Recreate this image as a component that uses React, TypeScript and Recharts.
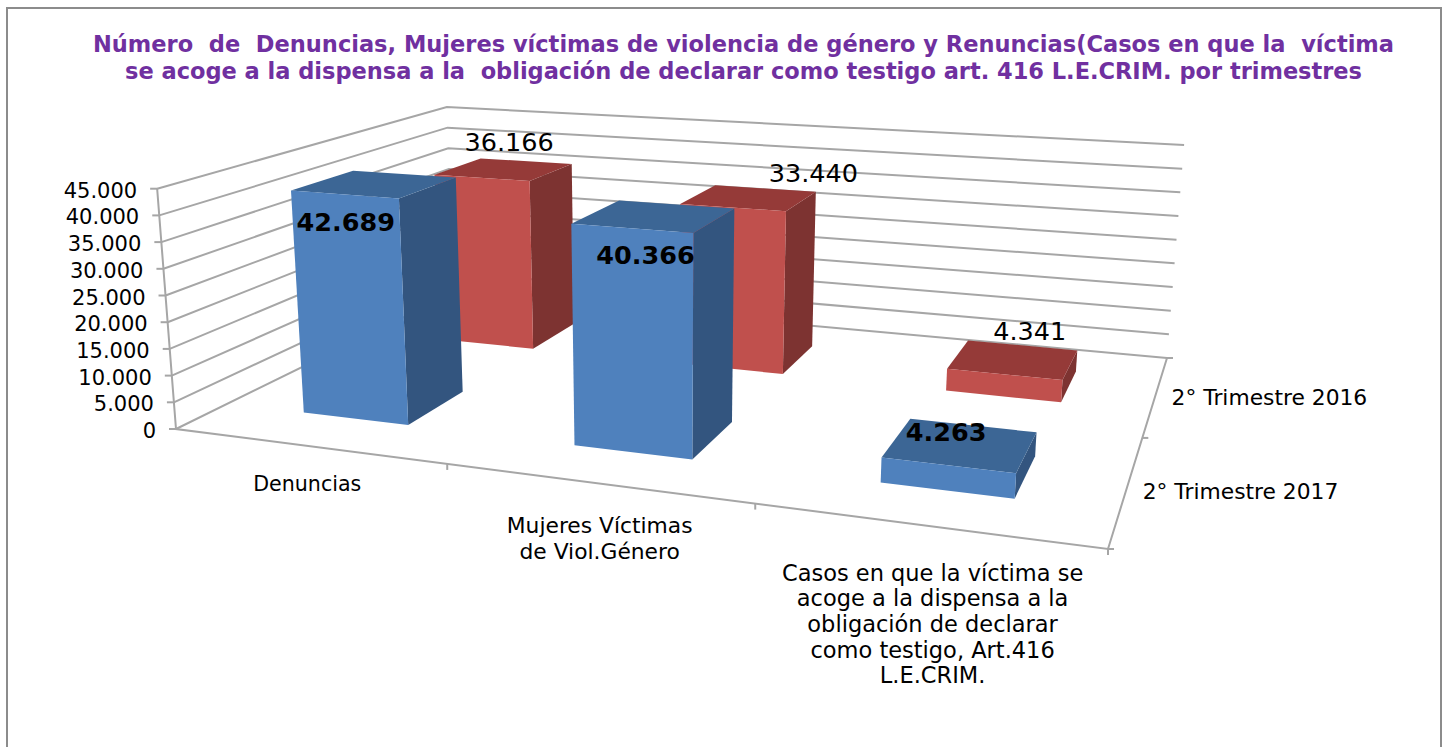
import { BarChart, Bar, XAxis, YAxis, CartesianGrid } from "recharts";

const W = 1446;
const H = 747;
// the axes keep 1px each, a zero size axis is not drawn at all
const PW = W - 1;
const PH = H - 1;

const categories = [
  "Denuncias",
  "Mujeres Víctimas\nde Viol.Género",
  "Casos en que la víctima se\nacoge a la dispensa a la\nobligación de declarar\ncomo testigo, Art.416\nL.E.CRIM.",
];
const values2017 = [42689, 40366, 4263];
const values2016 = [36166, 33440, 4341];
const seriesNames = ["2° Trimestre 2017", "2° Trimestre 2016"];
const yTicks = [0, 5000, 10000, 15000, 20000, 25000, 30000, 35000, 40000, 45000];
const titleLines = [
  "Número  de  Denuncias, Mujeres víctimas de violencia de género y Renuncias(Casos en que la  víctima",
  "se acoge a la dispensa a la  obligación de declarar como testigo art. 416 L.E.CRIM. por trimestres",
];

const data = categories.map((name, i) => ({
  name,
  t2017: values2017[i],
  t2016: values2016[i],
}));

const FONT = "'DejaVu Sans', Verdana, sans-serif";
const GRID = "#a6a6a6";
const X_LABEL_SIZE = [20.6, 21.8, 22.5];

// floor of the 3D box: front-left, front-right, back-right, back-left
const floorQuad = [[176, 429], [1108, 549], [1167, 358], [453, 293]];
// vertical edges all run to this point, far below the chart
const VANISH = [663, 6638];
const HEIGHT_K = 0.0387;

function makeFloor(q: number[][]) {
  const [[x0, y0], [x1, y1], [x2, y2], [x3, y3]] = q;
  const dx1 = x1 - x2, dx2 = x3 - x2, sx = x0 - x1 + x2 - x3;
  const dy1 = y1 - y2, dy2 = y3 - y2, sy = y0 - y1 + y2 - y3;
  const det = dx1 * dy2 - dx2 * dy1;
  const g = (sx * dy2 - dx2 * sy) / det;
  const h = (dx1 * sy - sx * dy1) / det;
  return (a: number, b: number) => {
    const w = g * a + h * b + 1;
    return [
      ((x1 - x0 + g * x1) * a + (x3 - x0 + h * x3) * b + x0) / w,
      ((y1 - y0 + g * y1) * a + (y3 - y0 + h * y3) * b + y0) / w,
      w,
    ];
  };
}
const floorAt = makeFloor(floorQuad);

// a: along categories, b: depth, c: height, all 0..1
function project(a: number, b: number, c: number) {
  const [x, y, w] = floorAt(a, b);
  const k = (HEIGHT_K * c) / w;
  return [x + (x - VANISH[0]) * k, y + (y - VANISH[1]) * k];
}

const pts = (list: number[][]) => list.map((p) => p.join(",")).join(" ");
const fmt = (v: number) => String(v).replace(/\B(?=(\d{3})+$)/g, ".");

function GridLevel(props: any) {
  const c = 1 - props.y1 / PH;
  return (
    <polyline
      points={pts([project(0, 0, c), project(0, 1, c), project(1, 1, c)])}
      fill="none"
      stroke={GRID}
      strokeWidth={2}
    />
  );
}

function Frame() {
  const depthTicks = [0, 0.5, 1].map((b) => {
    const p = project(1, b, 0);
    return <line key={b} x1={p[0]} y1={p[1]} x2={p[0] + 6} y2={p[1]} stroke={GRID} strokeWidth={2} />;
  });
  return (
    <g>
      <polyline
        points={pts([project(0, 0, 1), project(0, 0, 0), project(1, 0, 0), project(1, 1, 0)])}
        fill="none"
        stroke={GRID}
        strokeWidth={2}
      />
      {depthTicks}
      {seriesNames.map((name, i) => {
        const p = project(1, (i + 0.5) / 2, 0);
        return (
          <text key={name} x={p[0] + 16} y={p[1] + 10} fontFamily={FONT} fontSize={21.8} fill="#000">
            {name}
          </text>
        );
      })}
    </g>
  );
}

function YTick(props: any) {
  const c = 1 - props.y / PH;
  const p = project(0, 0, c);
  return (
    <g>
      <line x1={p[0] - 7} y1={p[1]} x2={p[0]} y2={p[1]} stroke={GRID} strokeWidth={2} />
      <text x={p[0] - 20} y={p[1] + 9} textAnchor="end" fontFamily={FONT} fontSize={21} fill="#000">
        {fmt(props.payload.value)}
      </text>
    </g>
  );
}

function XTick(props: any) {
  const a = (props.x - 1) / PW;
  const p = project(a, 0, 0);
  const end = project(a + 1 / 6, 0, 0);
  const lines = String(props.payload.value).split("\n");
  return (
    <g>
      <line x1={end[0]} y1={end[1]} x2={end[0]} y2={end[1] + 6} stroke={GRID} strokeWidth={2} />
      {lines.map((line, i) => (
        <text
          key={i}
          x={p[0] - 2 + 11 * a}
          y={p[1] + 42 + 16 * a + i * 25.6}
          textAnchor="middle"
          fontFamily={FONT}
          fontSize={X_LABEL_SIZE[props.index]}
          fill="#000"
        >
          {line}
        </text>
      ))}
    </g>
  );
}

const blue = { front: "#4f81bd", top: "#3c6695", side: "#33557f" };
const red = { front: "#c0504d", top: "#953a38", side: "#7d3331" };

// label shift from the centre of each bar's top face, the way Excel left them
const labelShift2017 = [[-29, 38], [-9, 39], [-15, -14]];
const labelShift2016 = [[5, -28], [64, -25], [16, -29]];

function makeBox(depthIndex: number, colors: typeof blue, shifts: number[][], weight: number) {
  const b0 = (depthIndex + 0.3) / 2;
  const b1 = (depthIndex + 0.7) / 2;
  return (props: any) => {
    const { x, y, width, value, index } = props;
    const a0 = (x - 1) / PW;
    const a1 = (x - 1 + width) / PW;
    const c = 1 - y / PH;
    const fl = project(a0, b0, 0);
    const fr = project(a1, b0, 0);
    const br = project(a1, b1, 0);
    const tfl = project(a0, b0, c);
    const tfr = project(a1, b0, c);
    const tbr = project(a1, b1, c);
    const tbl = project(a0, b1, c);
    const mid = [(tfl[0] + tfr[0] + tbr[0] + tbl[0]) / 4, (tfl[1] + tfr[1] + tbr[1] + tbl[1]) / 4];
    return (
      <g>
        <polygon points={pts([fr, br, tbr, tfr])} fill={colors.side} />
        <polygon points={pts([tfl, tfr, tbr, tbl])} fill={colors.top} />
        <polygon points={pts([fl, fr, tfr, tfl])} fill={colors.front} />
        <text
          x={mid[0] + shifts[index][0]}
          y={mid[1] + shifts[index][1] + 9}
          textAnchor="middle"
          fontFamily={FONT}
          fontSize={25.5}
          fontWeight={weight}
          fill="#000"
        >
          {fmt(value)}
        </text>
      </g>
    );
  };
}

const box2017 = makeBox(0, blue, labelShift2017, 700);
const box2016 = makeBox(1, red, labelShift2016, 400);

const BAR_SIZE = (PW / categories.length) * 0.4;

export default function App() {
  return (
    <div style={{ position: "absolute", left: 0, top: 0, width: W, height: H, background: "#fff" }}>
      <BarChart
        width={W}
        height={H}
        data={data}
        margin={{ top: 0, right: 0, bottom: 0, left: 0 }}
        barSize={BAR_SIZE}
        barGap={-BAR_SIZE}
      >
        <rect x={7} y={8} width={1434} height={H} fill="none" stroke="#8c8c8c" strokeWidth={2} />
        {titleLines.map((line, i) => (
          <text
            key={i}
            x={i === 0 ? 93 : 125}
            y={52 + i * 26.5}
            fontFamily={FONT}
            fontSize={22.5}
            fontWeight={700}
            fill="#7030a0"
            textLength={i === 0 ? 1301 : 1237}
            style={{ whiteSpace: "pre" }}
          >
            {line}
          </text>
        ))}
        <CartesianGrid vertical={false} horizontal={(p: any) => <GridLevel key={p.key} {...p} />} />
        <Frame />
        <XAxis dataKey="name" height={1} axisLine={false} tickLine={false} interval={0} tick={XTick} />
        <YAxis
          width={1}
          domain={[0, 45000]}
          ticks={yTicks}
          interval={0}
          axisLine={false}
          tickLine={false}
          tick={YTick}
        />
        <Bar dataKey="t2016" isAnimationActive={false} shape={box2016} />
        <Bar dataKey="t2017" isAnimationActive={false} shape={box2017} />
      </BarChart>
    </div>
  );
}
